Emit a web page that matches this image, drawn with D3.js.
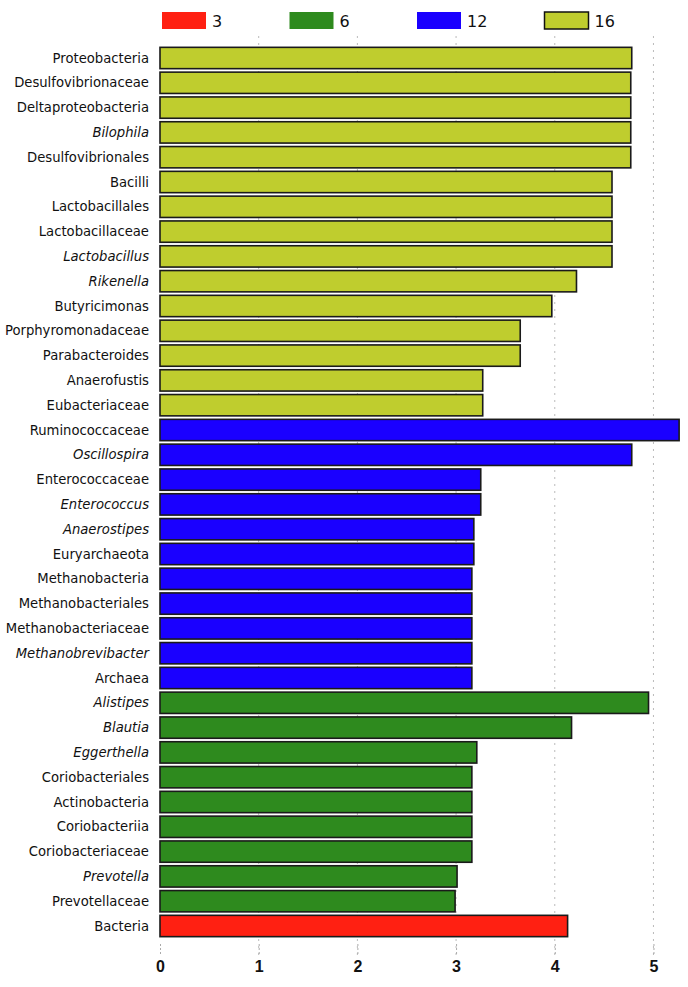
<!DOCTYPE html>
<html><head><meta charset="utf-8">
<script src="https://cdn.jsdelivr.net/npm/d3@7"></script>
<style>body{margin:0;background:#fff;} svg{display:block;}</style>
</head><body>
<svg id="chart" width="688" height="987"></svg>
<script>
const categories = ["Proteobacteria","Desulfovibrionaceae","Deltaproteobacteria","Bilophila","Desulfovibrionales","Bacilli","Lactobacillales","Lactobacillaceae","Lactobacillus","Rikenella","Butyricimonas","Porphyromonadaceae","Parabacteroides","Anaerofustis","Eubacteriaceae","Ruminococcaceae","Oscillospira","Enterococcaceae","Enterococcus","Anaerostipes","Euryarchaeota","Methanobacteria","Methanobacteriales","Methanobacteriaceae","Methanobrevibacter","Archaea","Alistipes","Blautia","Eggerthella","Coriobacteriales","Actinobacteria","Coriobacteriia","Coriobacteriaceae","Prevotella","Prevotellaceae","Bacteria"];
const values = [4.78,4.77,4.77,4.77,4.77,4.58,4.58,4.58,4.58,4.22,3.97,3.65,3.65,3.27,3.27,5.26,4.78,3.25,3.25,3.18,3.18,3.16,3.16,3.16,3.16,3.16,4.95,4.17,3.21,3.16,3.16,3.16,3.16,3.01,2.99,4.13];
const groups = ["16","16","16","16","16","16","16","16","16","16","16","16","16","16","16","12","12","12","12","12","12","12","12","12","12","12","6","6","6","6","6","6","6","6","6","3"];
const italic = ["Bilophila","Lactobacillus","Rikenella","Oscillospira","Enterococcus","Anaerostipes","Methanobrevibacter","Alistipes","Blautia","Eggerthella","Prevotella"];
const legendKeys = ["3","6","12","16"];
const legendColors = ["#ff2012","#2e8a1e","#1a00ff","#bfcd2e"];
const xTicks = [0,1,2,3,4,5];

const svg = d3.select("#chart");
const color = d3.scaleOrdinal().domain(legendKeys).range(legendColors);
const x = d3.scaleLinear().domain([0, 5.35]).range([160, 688]);
const step = 24.8;
const y = d3.scaleBand().domain(categories).range([58 - step/2, 58 - step/2 + step*categories.length]).paddingInner(0.14).paddingOuter(0.07);

// grid lines
svg.append("g").selectAll("line").data(xTicks.slice(1)).join("line")
  .attr("x1", d => x(d)).attr("x2", d => x(d))
  .attr("y1", 36).attr("y2", 955)
  .attr("stroke", "#bbb").attr("stroke-width", 1).attr("stroke-dasharray", "2,5");

// bottom axis
const axis = svg.append("g").attr("transform", "translate(0,944)")
  .call(d3.axisBottom(x).tickValues(xTicks).tickSize(11).tickFormat(d3.format("d")));
axis.select(".domain").remove();
axis.selectAll(".tick line").attr("stroke", "#aaa").attr("stroke-dasharray", "2,2");
axis.selectAll(".tick text").attr("font-family", "Liberation Sans, Arial, sans-serif")
  .attr("font-weight", "bold").attr("font-size", 16).attr("fill", "#111").attr("dy", "0.9em");

// bars
svg.append("g").selectAll("rect").data(categories).join("rect")
  .attr("x", x(0)).attr("y", d => y(d))
  .attr("width", (d,i) => x(values[i]) - x(0))
  .attr("height", y.bandwidth())
  .attr("fill", (d,i) => color(groups[i]))
  .attr("stroke", "#1a1a1a").attr("stroke-width", 1.6);

// labels
svg.append("g").selectAll("text").data(categories).join("text")
  .attr("x", 149).attr("y", d => y(d) + y.bandwidth()/2)
  .attr("dy", "0.35em").attr("text-anchor", "end")
  .attr("font-family", "DejaVu Sans, sans-serif").attr("font-size", 13.2)
  .attr("font-style", d => italic.includes(d) ? "italic" : "normal")
  .attr("fill", "#111").text(d => d);

// legend
const lg = svg.append("g");
legendKeys.forEach((k, i) => {
  const lx = 162 + i*127.5;
  lg.append("rect").attr("x", lx).attr("y", 12).attr("width", 44).attr("height", 17)
    .attr("fill", color(k))
    .attr("stroke", k === "16" ? "#111" : "none").attr("stroke-width", 1.5);
  lg.append("text").attr("x", lx + 50).attr("y", 21).attr("dy", "0.36em")
    .attr("font-family", "DejaVu Sans, sans-serif").attr("font-size", 16)
    .attr("fill", "#111").text(k);
});
</script>
</body></html>
